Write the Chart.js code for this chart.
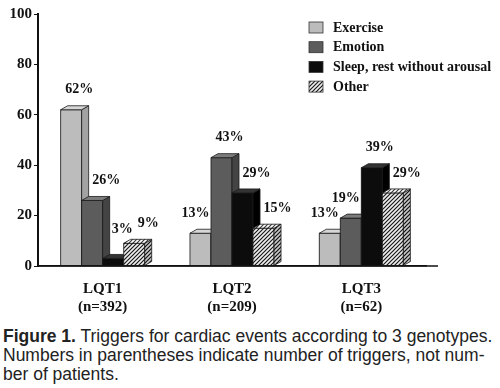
<!DOCTYPE html>
<html>
<head>
<meta charset="utf-8">
<script src="https://cdn.jsdelivr.net/npm/chart.js@4.4.1/dist/chart.umd.min.js"></script>
<style>
body { margin: 0; background: #fff; }
#wrap { position: relative; width: 500px; height: 318px; }
#caption {
    position: absolute; left: 3px; top: 327px; width: 497px; white-space: nowrap;
    font-family: "Liberation Sans", Arial, sans-serif; font-size: 17.5px; line-height: 19px; color: #222;
}
</style>
</head>
<body>
<div id="wrap"><canvas id="triggersChart" width="500" height="318"></canvas></div>
<div id="caption"><b>Figure 1.</b> Triggers for cardiac events according to 3 genotypes.<br>Numbers in parentheses indicate number of triggers, not num-<br>ber of patients.</div>
<script>
const genotypes = ['LQT1', 'LQT2', 'LQT3'];
const triggerCounts = ['(n=392)', '(n=209)', '(n=62)'];
const triggerNames = ['Exercise', 'Emotion', 'Sleep, rest without arousal', 'Other'];
const exercise = [62, 13, 13];
const emotion = [26, 43, 19];
const sleepRest = [3, 29, 39];
const other = [9, 15, 29];
const yTicks = [0, 20, 40, 60, 80, 100];

const canvas = document.getElementById('triggersChart');
const ctx = canvas.getContext('2d');

// hatched fill for "Other"
function makeHatch(bg, fg) {
    const c = document.createElement('canvas');
    c.width = 4; c.height = 4;
    const g = c.getContext('2d');
    g.fillStyle = bg;
    g.fillRect(0, 0, 4, 4);
    g.strokeStyle = fg;
    g.lineWidth = 1.2;
    g.beginPath();
    g.moveTo(0, 4); g.lineTo(4, 0);
    g.moveTo(-1, 1); g.lineTo(1, -1);
    g.moveTo(3, 5); g.lineTo(5, 3);
    g.stroke();
    return ctx.createPattern(c, 'repeat');
}
const hatch = makeHatch('#eeeeee', '#1a1a1a');
const hatchTop = makeHatch('#ffffff', '#3a3a3a');
const hatchSide = makeHatch('#c8c8c8', '#111');

const fronts = ['#bcbcbc', '#5c5c5c', '#0c0c0c', hatch];
const sides = ['#a2a2a2', '#444444', '#000000', hatchSide];
const tops = ['#d6d6d6', '#7c7c7c', '#333333', hatchTop];
const depthX = 7, depthY = 4;
const serif = '"Liberation Serif", "Times New Roman", serif';

function face(c, pts, fill) {
    c.beginPath();
    c.moveTo(pts[0][0], pts[0][1]);
    for (let i = 1; i < pts.length; i++) c.lineTo(pts[i][0], pts[i][1]);
    c.closePath();
    c.fillStyle = fill;
    c.fill();
    c.strokeStyle = '#1a1a1a';
    c.lineWidth = 0.8;
    c.stroke();
}

function hits(box, boxes) {
    return boxes.some(o => box.l < o.r && box.r > o.l && box.t < o.b && box.b > o.t);
}

const bars3d = {
    id: 'bars3d',
    afterDatasetsDraw(chart) {
        const c = chart.ctx;
        const area = chart.chartArea;
        const boxes = [];
        c.save();
        // redraw every bar left to right so each front covers the previous side face
        chart.data.datasets.forEach((ds, i) => {
            chart.getDatasetMeta(i).data.forEach(bar => {
                const l = bar.x - bar.width / 2, r = bar.x + bar.width / 2;
                const t = bar.y, b = bar.base;
                face(c, [[l, t], [r, t], [r, b], [l, b]], fronts[i]);
                face(c, [[r, t], [r + depthX, t - depthY], [r + depthX, b - depthY], [r, b]], sides[i]);
                face(c, [[l, t], [l + depthX, t - depthY], [r + depthX, t - depthY], [r, t]], tops[i]);
                boxes.push({ l: l, r: r + depthX, t: t - depthY, b: b });
            });
        });
        // x axis runs a bit past the last group
        c.strokeStyle = '#111';
        c.lineWidth = 1.5;
        c.beginPath();
        c.moveTo(area.left, area.bottom);
        c.lineTo(area.right + 12, area.bottom);
        c.stroke();
        // value labels, nudged so they stay clear of neighbouring bars and labels
        c.font = 'bold 14px ' + serif;
        c.fillStyle = '#111';
        c.textAlign = 'center';
        c.textBaseline = 'middle';
        const n = chart.data.datasets.length;
        chart.data.datasets.forEach((ds, i) => {
            chart.getDatasetMeta(i).data.forEach((bar, j) => {
                const text = ds.data[j] + '%';
                const w = c.measureText(text).width, h = 14;
                const cands = [[8, -20], [14, -20], [-5, -20]];
                if (i < n - 1) {
                    const next = chart.getDatasetMeta(i + 1).data[j];
                    cands.push([9, next.y - depthY - h / 2 - 3 - bar.y]);
                }
                let pick = cands[0];
                for (const cd of cands) {
                    const cx = bar.x + cd[0], cy = bar.y + cd[1];
                    if (!hits({ l: cx - w / 2, r: cx + w / 2, t: cy - h / 2, b: cy + h / 2 }, boxes)) { pick = cd; break; }
                }
                const lx = bar.x + pick[0], ly = bar.y + pick[1];
                c.fillText(text, lx, ly);
                boxes.push({ l: lx - w / 2 - 4, r: lx + w / 2 + 4, t: ly - h / 2, b: ly + h / 2 });
            });
        });
        c.restore();
    },
    afterDraw(chart) {
        // legend in the upper right
        const c = chart.ctx;
        c.save();
        c.font = 'bold 14px ' + serif;
        c.textBaseline = 'middle';
        c.textAlign = 'left';
        chart.data.datasets.forEach((ds, i) => {
            const y = 22 + i * 19.7;
            c.fillStyle = fronts[i];
            c.fillRect(309, y, 14, 11);
            c.strokeStyle = '#333';
            c.lineWidth = 0.8;
            c.strokeRect(309, y, 14, 11);
            c.fillStyle = '#111';
            c.fillText(ds.label, 333, y + 6);
        });
        c.restore();
    }
};

const seriesValues = [exercise, emotion, sleepRest, other];

new Chart(ctx, {
    type: 'bar',
    data: {
        labels: genotypes.map((g, i) => [g, triggerCounts[i]]),
        datasets: seriesValues.map((vals, i) => ({
            label: triggerNames[i],
            data: vals,
            backgroundColor: fronts[i],
            borderColor: '#1a1a1a',
            borderWidth: 0.8,
            categoryPercentage: 0.65,
            barPercentage: 1
        }))
    },
    options: {
        responsive: false,
        animation: false,
        layout: { padding: { top: 14, right: 74, left: 0, bottom: 0 } },
        plugins: {
            legend: { display: false },
            tooltip: { enabled: false }
        },
        scales: {
            x: {
                grid: { display: false },
                border: { color: '#111', width: 1.5 },
                ticks: {
                    color: '#111',
                    padding: 6,
                    maxRotation: 0,
                    font: { family: serif, size: 15, weight: 'bold', lineHeight: 1.2 }
                },
                afterFit(scale) { scale.height = 52; }
            },
            y: {
                min: 0,
                max: 100,
                afterBuildTicks(scale) { scale.ticks = yTicks.map(v => ({ value: v })); },
                grid: { drawOnChartArea: false, color: '#111', tickLength: 4 },
                border: { color: '#111', width: 2 },
                ticks: {
                    color: '#111',
                    padding: 2,
                    font: { family: serif, size: 15, weight: 'bold' }
                },
                afterFit(scale) { scale.width = 38; }
            }
        }
    },
    plugins: [bars3d]
});
</script>
</body>
</html>
